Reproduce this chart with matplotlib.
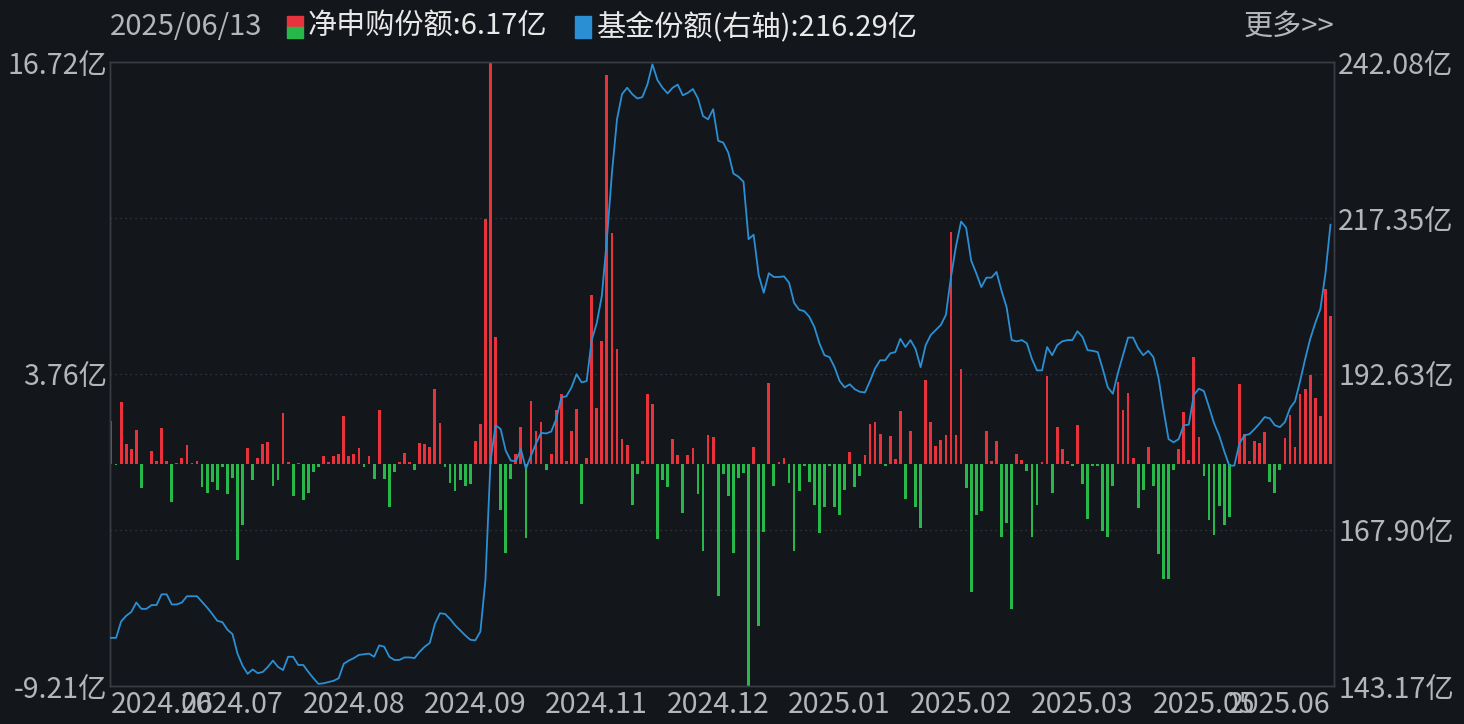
import matplotlib.pyplot as plt
from matplotlib.patches import Rectangle
import numpy as np

plt.rcParams['font.family'] = ['Noto Sans CJK SC', 'DejaVu Sans']

date_label = '2025/06/13'
bar_name = '净申购份额:6.17亿'
line_name = '基金份额(右轴):216.29亿'

# 净申购份额 (亿), one per trading day
net_sub = [
    1.8, -0.03, 2.6, 0.83, 0.63, 1.42, -1.0, 0.02, 0.55, 0.13,
    1.5, 0.13, -1.58, 0.05, 0.28, 0.8, 0.05, 0.13, -0.92, -1.17,
    -0.75, -1.08, -0.13, -1.22, -0.58, -3.97, -2.5, 0.67, -0.63, 0.28,
    0.83, 0.92, -0.88, -0.67, 2.15, 0.08, -1.33, 0.05, -1.5, -1.17,
    -0.33, -0.12, 0.33, 0.08, 0.33, 0.42, 2.03, 0.33, 0.42, 0.67,
    -0.12, 0.33, -0.62, 2.25, -0.62, -1.78, -0.33, 0.08, 0.47, 0.08,
    -0.25, 0.88, 0.83, 0.72, 3.12, 1.72, -0.13, -0.78, -1.12, -0.67,
    -0.88, -0.83, 0.97, 1.67, 10.2, 16.72, 5.28, -1.88, -3.67, -0.6,
    0.45, 1.55, -3.08, 2.62, 1.38, 1.75, -0.25, 0.45, 2.25, 2.92,
    0.13, 1.38, 2.28, -1.63, 0.28, 7.05, 2.33, 5.12, 16.17, 9.62,
    4.78, 1.05, 0.8, -1.67, -0.38, 0.13, 2.92, 2.5, -3.12, -0.67,
    -0.92, 1.05, 0.38, -2.03, 0.38, 0.67, -1.22, -3.62, 1.22, 1.12,
    -5.45, -0.42, -1.33, -3.67, -0.58, -0.37, -9.21, 0.72, -6.72, -2.83,
    3.37, -0.88, 0.08, 0.28, -0.78, -3.58, -1.12, -0.05, -0.72, -1.67,
    -2.87, -1.78, -0.05, -1.78, -2.12, -1.05, 0.5, -0.92, -0.5, 0.38,
    1.67, 1.78, 1.25, -0.05, 1.17, 0.22, 2.2, -1.42, 1.38, -1.78,
    -2.63, 3.5, 1.75, 0.75, 1.0, 1.22, 9.67, 1.22, 3.95, -1.0,
    -5.3, -2.12, -1.95, 1.38, 0.13, 0.97, -3.0, -2.42, -6.0, 0.42,
    0.17, -0.28, -3.0, -1.67, 0.08, 3.67, -1.17, 1.55, 0.63, 0.13,
    -0.05, 1.63, -0.83, -2.28, -0.08, -0.08, -2.75, -3.03, -0.88, 3.42,
    2.25, 2.95, 0.28, -1.8, -1.05, 0.72, -0.88, -3.72, -4.75, -4.78,
    -0.22, 0.63, 2.17, 0.17, 4.47, 1.13, -0.5, -2.33, -2.92, -1.75,
    -2.53, -2.17, 0.02, 3.33, 1.25, 0.13, 0.97, 0.87, 1.33, -0.75,
    -1.17, -0.22, 1.08, 2.05, 0.72, 2.92, 3.12, 3.72, 2.75, 2.0,
    7.28, 6.17,
]

# 基金份额 (亿), right axis
fund_share = [
    150.8, 150.8, 153.4, 154.3, 154.9, 156.4, 155.4, 155.4, 156.0, 156.0,
    157.7, 157.7, 156.1, 156.1, 156.4, 157.4, 157.4, 157.4, 156.5, 155.6,
    154.6, 153.5, 153.3, 152.1, 151.4, 148.3, 146.4, 145.1, 145.8, 145.2,
    145.4, 146.2, 147.2, 146.2, 145.7, 147.8, 147.8, 146.5, 146.5, 145.4,
    144.4, 143.5, 143.6, 143.8, 144.0, 144.4, 146.7, 147.2, 147.6, 148.1,
    148.2, 148.3, 147.8, 149.6, 149.4, 147.8, 147.3, 147.3, 147.7, 147.7,
    147.6, 148.6, 149.4, 150.0, 153.0, 154.7, 154.6, 153.8, 152.8, 152.0,
    151.2, 150.5, 150.4, 151.8, 160.0, 178.8, 184.5, 183.9, 180.5, 178.9,
    178.8, 180.7, 177.6, 179.7, 181.6, 183.3, 183.2, 183.5, 185.5, 188.9,
    189.1, 190.5, 192.6, 191.3, 191.5, 198.0, 200.7, 205.0, 214.0, 224.5,
    233.0, 237.0, 238.0, 237.0, 236.3, 236.5, 238.5, 241.7, 239.2, 238.0,
    237.1, 238.0, 238.5, 236.8, 237.2, 237.8, 236.3, 233.5, 233.0, 234.6,
    229.6, 229.3, 227.7, 224.4, 223.9, 223.1, 214.0, 214.7, 208.3, 205.5,
    208.6, 208.0, 208.0, 208.1, 207.1, 203.9, 202.8, 202.6, 201.7, 200.1,
    197.5, 195.6, 195.3, 193.7, 191.5, 190.5, 191.0, 190.2, 189.8, 189.7,
    191.5, 193.5, 194.8, 194.8, 195.9, 196.1, 198.2, 196.9, 198.0, 196.6,
    193.7, 197.2, 198.8, 199.6, 200.4, 202.0, 208.0, 212.9, 216.8, 215.8,
    210.6, 208.6, 206.4, 207.9, 207.9, 208.8, 205.8, 203.2, 198.0, 197.8,
    198.0, 197.5, 195.0, 193.2, 193.2, 196.9, 195.6, 197.2, 197.8, 198.0,
    198.0, 199.4, 198.5, 196.4, 196.3, 196.1, 193.4, 190.5, 189.5, 192.8,
    195.6, 198.4, 198.4, 196.7, 195.6, 196.3, 195.3, 192.1, 187.0, 182.3,
    181.8, 182.3, 184.5, 184.6, 189.3, 190.3, 189.9, 187.4, 184.8, 182.9,
    180.4, 178.1, 178.1, 181.6, 182.9, 183.1, 183.9, 184.8, 185.8, 185.6,
    184.5, 184.2, 185.0, 187.2, 188.3, 191.5, 195.0, 198.2, 200.7, 202.9,
    208.5, 216.29,
]

x_labels = ['2024.06', '2024.07', '2024.08', '2024.09', '2024.11', '2024.12',
            '2025.01', '2025.02', '2025.03', '2025.05', '2025.06']
x_label_pos = [0, 24, 48, 72, 96, 120, 144, 168, 192, 216, 241]
left_ticks = [-9.21, 3.76, 16.72]
right_ticks = [143.17, 167.90, 192.63, 217.35, 242.08]

bg = '#13161b'
red = '#e8333c'
green = '#27b84a'
blue = '#2b8fd3'
txt = '#b4b6ba'
frame = '#3a3d44'

fig = plt.figure(figsize=(14.64, 7.24), dpi=100, facecolor=bg)
ax1 = fig.add_axes([110 / 1464, 1 - 686 / 724, 1224 / 1464, 624 / 724])
ax1.set_facecolor(bg)

x = np.arange(len(net_sub))
colors = [red if v >= 0 else green for v in net_sub]
ax1.bar(x, net_sub, width=0.55, color=colors, zorder=2)
ax1.set_xlim(-0.2, 241.7)
ax1.set_ylim(left_ticks[0], left_ticks[-1])

# dotted grid at the inner right-axis levels
lo, hi = right_ticks[0], right_ticks[-1]
for r in right_ticks[1:-1]:
    g = left_ticks[0] + (r - lo) / (hi - lo) * (left_ticks[-1] - left_ticks[0])
    ax1.axhline(g, color=frame, lw=0.9, ls=(0, (1, 3)), zorder=1)

ax2 = ax1.twinx()
ax2.plot(x, fund_share, color=blue, lw=1.3, zorder=3)
ax2.set_ylim(lo, hi)

ax1.set_yticks(left_ticks)
ax1.set_yticklabels([f'{v:.2f}亿' for v in left_ticks])
ax2.set_yticks(right_ticks)
ax2.set_yticklabels([f'{v:.2f}亿' for v in right_ticks])
ax1.set_xticks(x_label_pos)
ax1.set_xticklabels(x_labels)
xl = ax1.get_xticklabels()
xl[0].set_ha('left')
xl[-1].set_ha('right')

for ax in (ax1, ax2):
    ax.tick_params(length=0, colors=txt, labelsize=20.5)
    for s in ax.spines.values():
        s.set_color(frame)
        s.set_linewidth(1)
ax1.tick_params(axis='y', pad=2)
ax1.tick_params(axis='x', pad=3)
ax2.tick_params(axis='y', pad=3)

# header
hy = 1 - 27 / 724
fig.text(110 / 1464, hy, date_label, color=txt, fontsize=21, va='center', ha='left')
sq_w, sq_h = 16 / 1464, 11 / 724
fig.add_artist(Rectangle((287 / 1464, 1 - 27 / 724), sq_w, sq_h, transform=fig.transFigure, color=red))
fig.add_artist(Rectangle((287 / 1464, 1 - 38 / 724), sq_w, sq_h, transform=fig.transFigure, color=green))
fig.text(308 / 1464, hy, bar_name, color='#e8e8e8', fontsize=21, va='center', ha='left')
fig.add_artist(Rectangle((575 / 1464, 1 - 38 / 724), sq_w, 2 * sq_h, transform=fig.transFigure, color=blue))
fig.text(597 / 1464, hy, line_name, color='#e8e8e8', fontsize=21, va='center', ha='left')
fig.text(1334 / 1464, hy, '更多>>', color=txt, fontsize=21, va='center', ha='right')

plt.savefig('out.png', dpi=100, facecolor=bg)
